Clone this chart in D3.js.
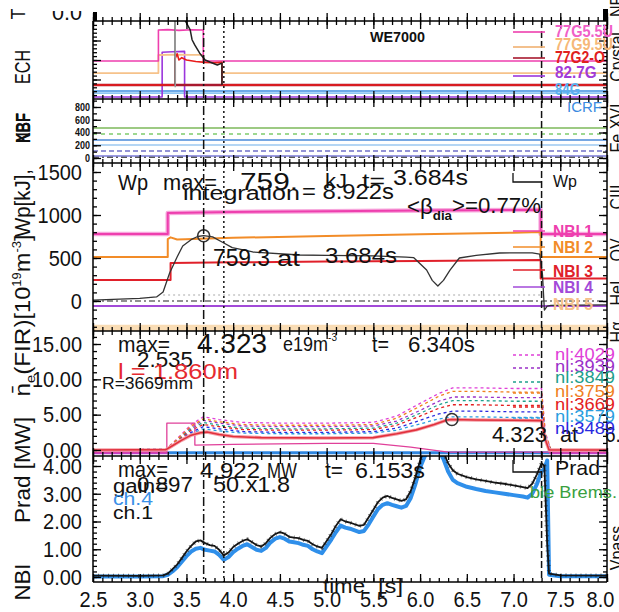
<!DOCTYPE html>
<html><head><meta charset="utf-8">
<script src="https://cdn.jsdelivr.net/npm/d3@7/dist/d3.min.js"></script>
<style>
html,body{margin:0;padding:0;background:#fff;}
svg{display:block;}
text{font-family:"Liberation Sans",Arial,Helvetica,sans-serif;}
</style></head>
<body>
<svg id="chart" width="619" height="612"></svg>
<script>
// ---------- time axis ----------
const timeRange = [2.5, 8.0];
const timeTickLabels = ["2.5","3.0","3.5","4.0","4.5","5.0","5.5","6.0","6.5","7.0","7.5","8.0"];
const markerTimes = [3.684, 3.9, 7.30];

// ---------- ECH power traces (offset, arbitrary units) ----------
const echPinkT   = [2.5, 3.2, 3.2, 3.3, 3.42, 3.55, 3.68, 3.68, 8.0];
const echPinkV   = [0.487, 0.487, 0.885, 0.89, 0.88, 0.887, 0.885, 0.487, 0.487];
const echOrangeT = [2.5, 3.2, 3.2, 3.4, 3.55, 3.68, 3.68, 3.88, 3.88, 8.0];
const echOrangeV = [0.333, 0.333, 0.564, 0.57, 0.566, 0.566, 0.474, 0.47, 0.333, 0.333];
const echRedT    = [2.5, 3.38, 3.38, 3.40, 3.42, 3.45, 3.5, 3.6, 3.7, 3.8, 3.88, 3.88, 8.0];
const echRedV    = [0.18, 0.18, 0.52, 0.58, 0.50, 0.53, 0.50, 0.48, 0.47, 0.465, 0.47, 0.18, 0.18];
const echPurpleT = [2.5, 3.24, 3.24, 3.35, 3.48, 3.48, 8.0];
const echPurpleV = [0.026, 0.026, 0.60, 0.605, 0.61, 0.026, 0.026];
const echBlackT  = [3.38, 3.38, 3.48, 3.54, 3.56, 3.59, 3.64, 3.70, 3.75, 3.83, 3.88, 3.88];
const echBlackV  = [0.18, 1.05, 1.02, 0.885, 0.76, 0.69, 0.59, 0.50, 0.474, 0.436, 0.46, 0.18];
const echFlatT   = [2.5, 8.0];
const echBlueV   = [0.103, 0.103];
const echSkyV    = [0.075, 0.075];

// ---------- KBF levels ----------
const kbfT = [2.5, 8.0];
const kbfGreen = [470, 470];
const kbfGreenDash = [376, 376];
const kbfBlue = [282, 282];
const kbfSky = [204, 204];
const kbfViolet = [110, 110];
const kbfIndigo = [31, 31];
const kbfBase = [12, 12];
const kbfTickLabels = [0, 200, 400, 600, 800];

// ---------- stored energy Wp [kJ] and NBI traces ----------
const wpT = [2.5, 3.0, 3.18, 3.25, 3.32, 3.40, 3.46, 3.56, 3.62, 3.684, 3.78, 3.89, 3.99, 4.21, 4.71,
             5.0, 5.5, 5.85, 5.93, 6.07, 6.13, 6.19, 6.25, 6.32, 6.42, 6.6, 6.85, 7.2, 7.28, 7.31,
             7.33, 7.36, 7.4, 8.0];
const wpV = [10, 30, 47, 105, 326, 512, 640, 720, 750, 759.3, 745, 680, 620, 570, 535,
             530, 525, 510, 505, 360, 240, 175, 240, 360, 500, 530, 558, 560, 545, 300,
             -105, -60, -50, -45];
const wpTickLabels = [0, 500, 1000, 1500];
const nbi1T = [2.5, 3.3, 3.3, 4.0, 5.0, 6.0, 7.0, 7.29, 7.29, 8.0];
const nbi1V = [779, 779, 1023, 1035, 1045, 1052, 1058, 1060, 779, 779];
const nbi2T = [2.5, 3.3, 3.3, 3.33, 3.4, 4.0, 5.0, 6.0, 7.0, 7.29, 7.29, 8.0];
const nbi2V = [512, 512, 720, 740, 715, 735, 755, 775, 795, 802, 512, 512];
const nbi3T = [2.5, 3.33, 3.33, 4.0, 5.0, 6.0, 7.0, 7.29, 7.29, 8.0];
const nbi3V = [244, 244, 442, 450, 458, 466, 474, 477, 262, 262];
const nbi4T = [2.5, 8.0];
const nbi4V = [-58, -58];
const nbi5T = [2.5, 8.0];
const nbi5V = [-316, -316];
const wpZeroT = [2.5, 8.0];
const wpZeroV = [0, 0];
const wpRefT = [3.25, 7.3];
const wpRefV = [70, 70];

// ---------- line density (FIR) ----------
const neT = [2.5, 3.28, 3.35, 3.45, 3.55, 3.65, 3.72, 3.85, 4.0, 4.3, 5.0, 5.5, 5.75, 5.96, 6.15, 6.29, 6.34, 6.6, 7.0, 7.3, 7.34, 7.38, 8.0];
const neV = [0, 0.05, 0.6, 1.4, 2.1, 2.45, 2.535, 2.2, 1.9, 1.75, 1.7, 1.75, 2.3, 2.85, 3.6, 4.25, 4.323, 4.25, 4.2, 4.15, 1.5, 0, 0];
const neAuxT = [2.5, 3.29, 3.29, 3.59, 3.59, 4.0, 5.0, 5.5, 5.9, 6.3, 7.3, 8.0];
const neAuxV = [-0.3, -0.3, 3.8, 3.8, 0.7, 0.8, 0.95, 0.95, 0.4, -0.3, -0.3, -0.3];
const neTickLabels = [0, 5, 10, 15];
const nlT = [2.5, 3.28, 3.4, 3.55, 3.68, 3.85, 4.1, 4.5, 5.0, 5.5, 5.75, 6.0, 6.2, 6.35, 6.6, 7.0, 7.3, 7.34, 7.4, 8.0];
const nl4029 = [0, 0.1, 1.6, 3.6, 4.7, 4.3, 3.9, 3.8, 3.8, 3.9, 4.8, 6.6, 8.0, 8.8, 8.8, 8.7, 8.7, 2.5, 0, 0];
const nl3759 = [0, 0.1, 1.5, 3.4, 4.4, 4.0, 3.6, 3.5, 3.5, 3.6, 4.5, 6.2, 7.6, 8.3, 8.3, 8.2, 8.2, 2.3, 0, 0];
const nl3939 = [0, 0.1, 1.4, 3.2, 4.2, 3.8, 3.4, 3.3, 3.3, 3.4, 4.1, 5.6, 6.9, 7.5, 7.5, 7.4, 7.4, 2.1, 0, 0];
const nl3849 = [0, 0.1, 1.3, 3.0, 3.9, 3.5, 3.1, 3.0, 3.0, 3.1, 3.8, 5.2, 6.4, 7.0, 7.0, 6.9, 6.9, 2.0, 0, 0];
const nl3669 = [0, 0.1, 1.2, 2.8, 3.6, 3.3, 2.9, 2.8, 2.8, 2.9, 3.5, 4.8, 5.9, 6.4, 6.4, 6.3, 6.3, 1.8, 0, 0];
const nl3489 = [0, 0.1, 1.1, 2.5, 3.3, 3.0, 2.6, 2.5, 2.5, 2.6, 3.1, 4.2, 5.1, 5.5, 5.5, 5.4, 5.4, 1.6, 0, 0];
const nl3579 = [0, 0.1, 1.0, 2.3, 3.0, 2.7, 2.4, 2.3, 2.3, 2.4, 2.8, 3.7, 4.4, 4.7, 4.7, 4.6, 4.6, 1.4, 0, 0];
const nlNames = ["nl:4029", "nl:3939", "nl:3849", "nl:3759", "nl:3669", "nl:3579", "nl:3489"];
const nlColors = ["#e040d8", "#9a30c8", "#1fa08c", "#f0801e", "#e42020", "#2a9ee0", "#2828e0"];

// ---------- radiated power [MW] ----------
const pradT = [2.5, 3.0, 3.25, 3.3, 3.35, 3.4, 3.45, 3.5, 3.55, 3.6,
               3.65, 3.7, 3.75, 3.8, 3.85, 3.9, 3.95, 4.0, 4.05, 4.1,
               4.15, 4.2, 4.25, 4.3, 4.35, 4.4, 4.45, 4.5, 4.55, 4.6,
               4.65, 4.7, 4.75, 4.8, 4.85, 4.9, 4.95, 5.0, 5.05, 5.1,
               5.15, 5.2, 5.25, 5.3, 5.35, 5.4, 5.45, 5.5, 5.55, 5.6,
               5.65, 5.7, 5.75, 5.8, 5.85, 5.9, 5.95, 6.0, 6.05, 6.1,
               6.153, 6.2, 6.25, 6.3, 6.35, 6.4, 6.5, 6.6, 6.7, 6.8,
               6.9, 7.0, 7.1, 7.15, 7.2, 7.25, 7.3, 7.33, 7.36, 7.38,
               7.5, 8.0];
const pradCh1 = [0.05, 0.04, 0.06, 0.12, 0.28, 0.45, 0.68, 0.92, 1.12, 1.28,
                 1.32, 1.22, 1.15, 1.12, 0.98, 0.78, 0.88, 1.08, 1.20, 1.30,
                 1.36, 1.26, 1.15, 1.10, 1.22, 1.42, 1.55, 1.62, 1.56, 1.45,
                 1.42, 1.40, 1.34, 1.30, 1.18, 1.10, 1.05, 1.30, 1.55, 1.85,
                 2.08, 2.00, 1.96, 1.90, 1.84, 1.88, 2.15, 2.42, 2.70, 2.86,
                 2.92, 2.85, 2.80, 2.74, 2.80, 3.10, 3.60, 4.20, 4.60, 4.85,
                 4.922, 4.80, 4.50, 4.10, 3.85, 3.72, 3.60, 3.52, 3.46, 3.40,
                 3.36, 3.30, 3.24, 3.20, 3.36, 3.70, 4.10, 4.00, 1.20, 0.12,
                 0.06, 0.05];
const pradCh4 = [0.02, 0.02, 0.03, 0.08, 0.20, 0.35, 0.55, 0.75, 0.92, 1.02,
                 1.05, 0.98, 0.95, 0.92, 0.80, 0.62, 0.72, 0.90, 1.02, 1.12,
                 1.18, 1.08, 0.98, 0.94, 1.05, 1.25, 1.38, 1.44, 1.38, 1.28,
                 1.25, 1.22, 1.16, 1.12, 1.00, 0.92, 0.86, 1.10, 1.35, 1.62,
                 1.85, 1.78, 1.74, 1.68, 1.62, 1.66, 1.90, 2.18, 2.45, 2.60,
                 2.66, 2.60, 2.55, 2.50, 2.56, 2.85, 3.35, 3.95, 4.35, 4.60,
                 4.68, 4.55, 4.25, 3.80, 3.50, 3.38, 3.25, 3.17, 3.10, 3.05,
                 3.00, 2.95, 2.90, 2.86, 3.00, 3.35, 3.80, 3.90, 4.20, 0.08,
                 0.03, 0.03];
const pradTickLabels = [0, 1, 2, 3, 4];

// ---------- layout ----------
const svg = d3.select("#chart");
svg.append("rect").attr("width", 619).attr("height", 612).attr("fill", "#fff");
const X0 = 93, X1 = 607;
const x = d3.scaleLinear().domain(timeRange).range([X0, X1]);

const panels = {
  ech:  { y0: 21,  y1: 99,  y: d3.scaleLinear().domain([0, 1]).range([99, 21]),       maj: d3.range(0, 5).map(i => i * 0.25), min: d3.range(0, 21).map(i => i * 0.05) },
  kbf:  { y0: 99,  y1: 163, y: d3.scaleLinear().domain([0, 800]).range([158, 107]),   maj: d3.range(0, 5).map(i => i * 200), min: d3.range(0, 10).map(i => i * 100) },
  wp:   { y0: 163, y1: 331, y: d3.scaleLinear().domain([0, 1500]).range([301, 172]),  maj: d3.range(-1, 4).map(i => i * 500), min: d3.range(-4, 17).map(i => i * 100) },
  ne:   { y0: 331, y1: 456, y: d3.scaleLinear().domain([0, 15]).range([450, 344]),    maj: d3.range(0, 4).map(i => i * 5), min: d3.range(0, 17).map(i => i) },
  prad: { y0: 456, y1: 582, y: d3.scaleLinear().domain([0, 4]).range([577, 466]),     maj: d3.range(0, 5), min: d3.range(0, 22).map(i => i * 0.2) }
};

const defs = svg.append("defs");
Object.entries(panels).forEach(([k, p]) => {
  defs.append("clipPath").attr("id", "clip-" + k)
    .append("rect").attr("x", X0).attr("y", p.y0).attr("width", X1 - X0).attr("height", p.y1 - p.y0);
  p.g = svg.append("g").attr("clip-path", `url(#clip-${k})`);
});

function trace(p, ts, vs, style) {
  const line = d3.line().x(d => x(d[0])).y(d => p.y(d[1]));
  const path = p.g.append("path").datum(d3.zip(ts, vs)).attr("d", line)
    .attr("fill", "none").attr("stroke-linejoin", "round");
  Object.entries(style).forEach(([a, v]) => path.attr(a, v));
  return path;
}

// ---------- ECH ----------
const E = panels.ech;
trace(E, echFlatT, echSkyV, { stroke: "#8cc6f4", "stroke-width": 1.6 });
trace(E, echFlatT, echBlueV, { stroke: "#3c8ee0", "stroke-width": 1.6 });
trace(E, echPurpleT, echPurpleV, { stroke: "#9b36dc", "stroke-width": 1.6 });
trace(E, echOrangeT, echOrangeV, { stroke: "#f6c28a", "stroke-width": 1.8 });
trace(E, echPinkT, echPinkV, { stroke: "#ee3fae", "stroke-width": 1.6 });
trace(E, echFlatT, [0.18, 0.18], { stroke: "#a8182e", "stroke-width": 2.6 });
trace(E, echRedT, echRedV, { stroke: "#e81c1c", "stroke-width": 1.6 });
trace(E, echBlackT, echBlackV, { stroke: "#222", "stroke-width": 1.5 });
// thin grey riser of the black trace
trace(E, [3.38, 3.38], [0.15, 1.05], { stroke: "#999", "stroke-width": 1.5 });

// ---------- KBF ----------
const K = panels.kbf;
trace(K, kbfT, kbfGreen, { stroke: "#7cb85a", "stroke-width": 1.5 });
trace(K, kbfT, kbfGreenDash, { stroke: "#7fcc6e", "stroke-width": 1.5, "stroke-dasharray": "4,4" });
trace(K, kbfT, kbfBlue, { stroke: "#4a8ad8", "stroke-width": 1.5 });
trace(K, kbfT, kbfSky, { stroke: "#9cc8f0", "stroke-width": 1.5 });
trace(K, kbfT, kbfViolet, { stroke: "#7070c8", "stroke-width": 1.5, "stroke-dasharray": "5,3" });
trace(K, kbfT, kbfIndigo, { stroke: "#7a7ad8", "stroke-width": 1.5 });
trace(K, kbfT, kbfBase, { stroke: "#222", "stroke-width": 1.2, "stroke-dasharray": "6,3,2,3" });

// ---------- Wp + NBI ----------
const P = panels.wp;
trace(P, nbi5T, nbi5V, { stroke: "#f9dcb4", "stroke-width": 7 });
trace(P, wpRefT, wpRefV, { stroke: "#aaa", "stroke-width": 1.2, "stroke-dasharray": "2,3" });
trace(P, wpZeroT, wpZeroV, { stroke: "#222", "stroke-width": 1.2, "stroke-dasharray": "6,3,2,3" });
trace(P, nbi4T, nbi4V, { stroke: "#a24ad8", "stroke-width": 1.8 });
trace(P, nbi1T, nbi1V, { stroke: "#f7a6dc", "stroke-width": 4.5 });
trace(P, nbi1T, nbi1V, { stroke: "#ee3fae", "stroke-width": 2 });
trace(P, nbi2T, nbi2V, { stroke: "#f28c28", "stroke-width": 2 });
trace(P, nbi3T, nbi3V, { stroke: "#e0202a", "stroke-width": 2 });
trace(P, wpT, wpV, { stroke: "#333", "stroke-width": 1.3 });
P.g.append("circle").attr("cx", x(3.684)).attr("cy", P.y(759.3)).attr("r", 6)
  .attr("fill", "none").attr("stroke", "#333").attr("stroke-width", 1.6);

// ---------- ne ----------
const N = panels.ne;
trace(N, [2.5, 3.3], [-0.4, -0.4], { stroke: "#c040c8", "stroke-width": 3 });
trace(N, [7.38, 8.0], [-0.4, -0.4], { stroke: "#c040c8", "stroke-width": 3 });
trace(N, [3.3, 7.38], [-0.4, -0.4], { stroke: "#2f86e0", "stroke-width": 3 });
const nlSeries = [nl4029, nl3939, nl3849, nl3759, nl3669, nl3579, nl3489];
nlSeries.forEach((vs, i) => trace(N, nlT, vs, { stroke: nlColors[i], "stroke-width": 1.3, "stroke-dasharray": "3,3" }));
trace(N, neAuxT, neAuxV, { stroke: "#e0409a", "stroke-width": 1.3 });
trace(N, neT, neV, { stroke: "#f4a0a8", "stroke-width": 3.5 });
trace(N, neT, neV, { stroke: "#e2303c", "stroke-width": 1.6 });
N.g.append("circle").attr("cx", x(6.34)).attr("cy", N.y(4.323)).attr("r", 6)
  .attr("fill", "none").attr("stroke", "#333").attr("stroke-width", 1.6);

// ---------- Prad ----------
const R = panels.prad;
trace(R, pradT, pradCh4, { stroke: "#2f8fea", "stroke-width": 4 });
trace(R, pradT, pradCh1, { stroke: "#151515", "stroke-width": 1.8 });
trace(R, pradT, pradCh1, { stroke: "#151515", "stroke-width": 4, "stroke-dasharray": "1,4", opacity: 0.55 });

// ---------- timing markers ----------
const gm = svg.append("g");
const markerDash = ["9,3,2,3", "2,3", "7,3"];
markerTimes.forEach((t, i) => {
  gm.append("line").attr("x1", x(t)).attr("x2", x(t)).attr("y1", 21).attr("y2", 582)
    .attr("stroke", "#111").attr("stroke-width", 1.5).attr("stroke-dasharray", markerDash[i]);
});

// ---------- frames and ticks ----------
const ga = svg.append("g");
const xMaj = timeTickLabels.map(Number);
const xMin = d3.range(25, 81).map(i => i / 10);
function edgeTicks(p, sides) {
  const g = ga.append("g");
  if (sides.includes("b")) {
    g.append("g").attr("transform", `translate(0,${p.y1})`).call(d3.axisBottom(x).tickValues(xMin).tickSize(-4).tickFormat(""));
    g.append("g").attr("transform", `translate(0,${p.y1})`).call(d3.axisBottom(x).tickValues(xMaj).tickSize(-8).tickFormat(""));
  }
  if (sides.includes("t")) {
    g.append("g").attr("transform", `translate(0,${p.y0})`).call(d3.axisTop(x).tickValues(xMin).tickSize(-4).tickFormat(""));
    g.append("g").attr("transform", `translate(0,${p.y0})`).call(d3.axisTop(x).tickValues(xMaj).tickSize(-8).tickFormat(""));
  }
  if (p.y) {
    const inside = v => p.y(v) >= p.y0 + 1 && p.y(v) <= p.y1 - 1;
    g.append("g").attr("transform", `translate(${X0},0)`).call(d3.axisLeft(p.y).tickValues(p.min.filter(inside)).tickSize(-4).tickFormat(""));
    g.append("g").attr("transform", `translate(${X0},0)`).call(d3.axisLeft(p.y).tickValues(p.maj.filter(inside)).tickSize(-8).tickFormat(""));
    g.append("g").attr("transform", `translate(${X1},0)`).call(d3.axisRight(p.y).tickValues(p.min.filter(inside)).tickSize(-4).tickFormat(""));
    g.append("g").attr("transform", `translate(${X1},0)`).call(d3.axisRight(p.y).tickValues(p.maj.filter(inside)).tickSize(-8).tickFormat(""));
  }
  g.selectAll(".domain").remove();
  g.selectAll("line").attr("stroke", "#000").attr("stroke-width", 1.3);
}
edgeTicks({ y0: -40, y1: 21 }, "b");
Object.values(panels).forEach(p => edgeTicks(p, "tb"));
[21, 99, 163, 331, 456, 582].forEach(yy =>
  ga.append("line").attr("x1", X0).attr("x2", X1).attr("y1", yy).attr("y2", yy).attr("stroke", "#000").attr("stroke-width", 1.5));
[X0, X1].forEach(xx =>
  ga.append("line").attr("x1", xx).attr("x2", xx).attr("y1", 21).attr("y2", 582).attr("stroke", "#000").attr("stroke-width", 1.5));
ga.append("rect").attr("x", 93).attr("y", 12).attr("width", 4).attr("height", 9).attr("fill", "#000");
ga.append("rect").attr("x", 603).attr("y", 9).attr("width", 5).attr("height", 12).attr("fill", "#000");

// ---------- axis labels ----------
const SY = 1.14;
function stretch(sel) { sel.selectAll("text").attr("transform", `scale(1,${SY})`); }
const axX = svg.append("g").attr("transform", "translate(0,582)")
  .call(d3.axisBottom(x).tickValues(xMaj).tickSize(0).tickPadding(7.5).tickFormat((d, i) => timeTickLabels[i]));
axX.selectAll("text").attr("font-size", 20).attr("fill", "#111").attr("font-family", "Liberation Sans, Arial, sans-serif");
stretch(axX); axX.select(".domain").remove();
// keep the last time label inside the page
axX.selectAll("text").filter((d, i) => i === timeTickLabels.length - 1).attr("dx", -7);

function yLabels(p, vals, fmt, fs, xr, bold) {
  const a = svg.append("g").attr("transform", `translate(${xr},0)`)
    .call(d3.axisLeft(p.y).tickValues(vals).tickSize(0).tickPadding(2).tickFormat(fmt));
  a.select(".domain").remove();
  a.selectAll("text").attr("font-size", fs).attr("fill", "#111").attr("font-family", "Liberation Sans, Arial, sans-serif");
  if (bold) a.selectAll("text").attr("font-weight", "bold");
  stretch(a);
}
yLabels(panels.kbf, kbfTickLabels, d3.format("d"), 9, 92, true);
yLabels(panels.wp, wpTickLabels, d3.format("d"), 20, 84);
yLabels(panels.ne, neTickLabels, d3.format(".2f"), 20, 84);
yLabels(panels.prad, pradTickLabels, d3.format(".2f"), 20, 84);

// ---------- text helper ----------
const gt = svg.append("g");
function txt(s, tx, ty, o = {}) {
  const t = gt.append("text")
    .attr("transform", `translate(${tx},${ty})` + (o.rot ? ` rotate(${o.rot})` : "") + ` scale(1,${o.sy ?? SY})`)
    .attr("font-size", o.fs ?? 19)
    .attr("fill", o.c ?? "#111")
    .attr("text-anchor", o.anchor ?? "start");
  if (o.bold) t.attr("font-weight", "bold");
  if (o.w) t.attr("textLength", o.w).attr("lengthAdjust", "spacingAndGlyphs");
  if (Array.isArray(s)) {
    s.forEach(pt => {
      const ts = t.append("tspan").text(pt.t);
      if (pt.fs) ts.attr("font-size", pt.fs);
      if (pt.dy) ts.attr("dy", pt.dy);
      if (pt.c) ts.attr("fill", pt.c);
      if (pt.bold) ts.attr("font-weight", "bold");
    });
  } else t.text(s);
  return t;
}

// top strip leftovers
txt("0.0", 52, 20, { fs: 20, w: 30 });
gt.append("rect").attr("x", 45).attr("y", 0).attr("width", 45).attr("height", 11).attr("fill", "#fff");
txt("T", 25, 14, { rot: -90, anchor: "middle", fs: 18 });

// left titles
txt("ECH", 30, 67, { rot: -90, anchor: "middle", fs: 20, w: 34 });
txt("KBF", 30, 128, { rot: -90, anchor: "middle", fs: 17, w: 30, bold: true });
txt("NBF", 30, 128, { rot: -90, anchor: "middle", fs: 17, w: 30, bold: true });
txt("Wp[kJ],", 30, 203, { rot: -90, anchor: "middle", fs: 20, w: 68 });
txt([{ t: "[10" }, { t: "19", fs: 11, dy: -8 }, { t: "m", fs: 20, dy: 8 }, { t: "-3", fs: 11, dy: -8 }, { t: "]", fs: 20, dy: 8 }],
    30, 277, { rot: -90, anchor: "middle", fs: 20, w: 85 });
txt([{ t: "n\u0304" }, { t: "e", fs: 12, dy: 4 }, { t: "(FIR)", fs: 20, dy: -4 }], 30, 358, { rot: -90, anchor: "middle", fs: 20, w: 77 });
txt("Prad [MW]", 30, 470, { rot: -90, anchor: "middle", fs: 20, w: 106 });
txt("NBI", 30, 582, { rot: -90, anchor: "middle", fs: 20, w: 37 });

// right edge diagnostics names
[["NE", 6], ["Crystal", 57], ["Fe XVI", 128], ["CIII", 197], ["OV", 250], ["HeI", 293], ["H\u03b1", 332], ["Vpass", 548]]
  .forEach(([s, cy]) => txt(s, 623, cy, { rot: -90, anchor: "middle", fs: 16 }));

// ECH annotations
txt("WE7000", 370, 42, { fs: 13, bold: true, w: 55 });
const echLeg = [["77G5.5U", "#f060c8", 37, "#ee3fae", 32], ["77G9.5U", "#f6b878", 50, "#f0b070", 47],
                ["77G2-O", "#e02020", 63, "#a8182e", 58], ["82.7G", "#a23ad8", 78, "#9b36dc", 76],
                ["84G", "#59b0f0", 95, null, 0]];
echLeg.forEach(([s, c, by, lc, ly]) => {
  if (lc) gt.append("line").attr("x1", 513).attr("x2", 545).attr("y1", ly).attr("y2", ly).attr("stroke", lc).attr("stroke-width", 1.6);
  txt(s, 555, by, { fs: 14, c: c, w: s.length * 8.3, bold: true });
});
txt("ICRF", 567, 112, { fs: 13, c: "#3a8ae0", w: 35 });

// Wp annotations
txt("Wp", 118, 190, { fs: 20, w: 30 });
txt("max=", 163, 190, { fs: 20, w: 54 });
txt("759.", 240, 190, { fs: 21, w: 58 });
txt("kJ", 325, 188, { fs: 18, w: 22 });
txt("t=", 362, 188, { fs: 18, w: 23 });
txt("3.684s", 393, 185, { fs: 20, w: 75 });
txt("integration", 183, 200, { fs: 18, w: 117 });
txt("= 8.922s", 302, 199, { fs: 20, w: 92 });
txt([{ t: "<\u03b2" }, { t: "dia", fs: 12, dy: 5, bold: true }, { t: ">=0.77%", fs: 20, dy: -6 }], 407, 214, { fs: 20, w: 134 });
txt("759.3", 213, 266, { fs: 21, w: 57 });
txt("at", 277, 266, { fs: 20, w: 23 });
txt("3.684s", 325, 263, { fs: 20, w: 72 });
gt.append("path").attr("d", "M513,173V182H541").attr("fill", "none").attr("stroke", "#111").attr("stroke-width", 1.3);
txt("Wp", 553, 187, { fs: 15, w: 24 });
const nbiLeg = [["NBI 1", "#ee3fae", 237, 231], ["NBI 2", "#f28c28", 253, 247], ["NBI 3", "#e0202a", 277, 270],
                ["NBI 4", "#a24ad8", 293, 287], ["NBI 5", "#f5c08a", 310, 0]];
nbiLeg.forEach(([s, c, by, ly]) => {
  if (ly) gt.append("line").attr("x1", 513).attr("x2", 545).attr("y1", ly).attr("y2", ly).attr("stroke", c).attr("stroke-width", 1.5);
  txt(s, 553, by, { fs: 15, c: c, w: 40, bold: true });
});

// ne annotations
txt("max=", 118, 352, { fs: 19, w: 52 });
txt("4.323", 197, 353, { fs: 24, w: 70 });
txt([{ t: "e19m" }, { t: "-3", fs: 10, dy: -9 }], 283, 351, { fs: 18, w: 54 });
txt("t=", 372, 352, { fs: 19, w: 17 });
txt("6.340s", 408, 352, { fs: 20, w: 67 });
txt("2.535", 137, 367, { fs: 19, w: 56 });
txt("l = 1.860m", 118, 379, { fs: 20, c: "#e62a30", w: 120 });
txt("R=3669mm", 102, 389, { fs: 14, w: 91 });
txt("4.323", 492, 442, { fs: 19, w: 55 });
txt("at", 560, 442, { fs: 19, w: 18 });
txt("6.340s", 605, 442, { fs: 19 });
const nlBase = [360, 372, 383, 397, 410, 422, 434];
const nlLineY = [355, 368, 382, 393, 407, 418];
nlLineY.forEach((ly, i) => gt.append("line").attr("x1", 513).attr("x2", 542).attr("y1", ly).attr("y2", ly)
  .attr("stroke", nlColors[i]).attr("stroke-width", 1.3).attr("stroke-dasharray", "3,3"));
nlNames.forEach((s, i) => txt(s, 555, nlBase[i], { fs: 14, c: nlColors[i], w: 60 }));

// Prad annotations
txt("max=", 118, 477, { fs: 19, w: 50 });
txt("4.922", 200, 478, { fs: 20, w: 60 });
txt("MW", 267, 478, { fs: 20, w: 30 });
txt("t=", 325, 478, { fs: 19, w: 18 });
txt("6.153s", 355, 478, { fs: 20, w: 70 });
txt("gain=", 113, 493, { fs: 18, w: 55 });
txt("0.897", 137, 492, { fs: 19, w: 56 });
txt("50.x1.8", 213, 492, { fs: 20, w: 77 });
txt("ch.4", 113, 505, { fs: 16, c: "#3a90e8", w: 40 });
txt("ch.1", 113, 519, { fs: 16, w: 40 });
gt.append("path").attr("d", "M513,460V472H541").attr("fill", "none").attr("stroke", "#111").attr("stroke-width", 1.3);
txt("Prad", 555, 475, { fs: 17, w: 45 });
txt("ble Brems.", 530, 498, { fs: 14, c: "#3aa040", w: 87 });
txt("time", 323, 593, { fs: 17, w: 42 });
txt("[s]", 378, 593, { fs: 18, w: 25 });
</script>
</body></html>
